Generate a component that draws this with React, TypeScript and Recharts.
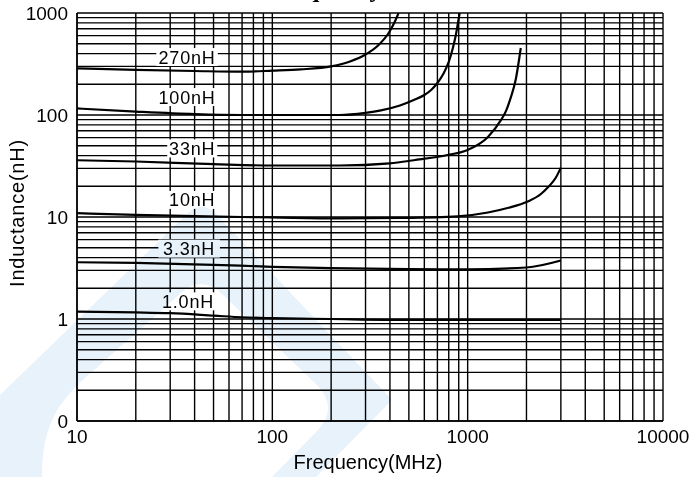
import React from "react";
import {
  CartesianGrid,
  Line,
  LineChart,
  ReferenceDot,
  XAxis,
  YAxis,
} from "recharts";

// frequency (MHz) / inductance (nH)
const freq270 = [10, 20, 40, 70, 100, 140, 200, 250, 300, 350, 394, 423, 443];
const ind270 = [287, 277, 270, 266, 272, 280, 300, 335, 392, 486, 637, 816, 1000];

const freq100 = [10, 20, 40, 70, 100, 150, 220, 300, 360, 450, 530, 600, 650, 700, 750, 800, 840, 870, 890, 910];
const ind100 = [116, 108, 102, 100, 100, 100, 100, 105, 111, 124, 140, 157, 176, 206, 252, 331, 454, 608, 780, 1000];

const freq33 = [10, 20, 50, 100, 220, 400, 530, 790, 1000, 1270, 1480, 1570, 1660, 1760, 1870];
const ind33 = [36, 35, 33, 32, 32, 33.6, 36, 40.5, 45.5, 61, 89, 109, 147, 220, 454];

const freq10 = [10, 20, 70, 100, 220, 450, 890, 1270, 1600, 2030, 2370, 2570, 2820, 3000];
const ind10 = [10.9, 10.5, 10, 9.9, 9.7, 9.8, 10.16, 11.07, 12.25, 14.2, 16.8, 19.5, 24.1, 30.5];

const freq3p3 = [10, 20, 50, 100, 200, 500, 1000, 2000, 3000];
const ind3p3 = [3.6, 3.55, 3.4, 3.25, 3.15, 3.08, 3.07, 3.2, 3.75];

const freq1p0 = [10, 20, 30, 50, 70, 100, 200, 500, 1000, 3000];
const ind1p0 = [1.18, 1.16, 1.14, 1.08, 1.04, 1.02, 1.0, 0.98, 0.98, 0.98];

const curveLabels = ["270nH", "100nH", "33nH", "10nH", "3.3nH", "1.0nH"];
const labelFreq = [36.6, 36.6, 38.9, 38.9, 37.5, 37];
const labelInd = [370, 150, 47, 14.7, 4.9, 1.49];

const xDecades = [10, 100, 1000, 10000];
const xDecadeLabels = ["10", "100", "1000", "10000"];
const yDecades = [0.1, 1, 10, 100, 1000];
const yDecadeLabels = ["0", "1", "10", "100", "1000"];

const FONT = "'Liberation Sans', Arial, Helvetica, sans-serif";

function logTicks(decades: number[]) {
  const out: number[] = [];
  decades.forEach((d, i) => {
    if (i === decades.length - 1) {
      out.push(d);
      return;
    }
    for (let m = 1; m < 10; m++) out.push(+(d * m).toPrecision(6));
  });
  return out;
}

function decadeFormatter(decades: number[], labels: string[]) {
  return (v: number) => {
    const i = decades.findIndex((d) => Math.abs(v / d - 1) < 1e-6);
    return i >= 0 ? labels[i] : "";
  };
}

const toPoints = (f: number[], l: number[]) => f.map((x, i) => ({ f: x, L: l[i] }));

const series = [
  toPoints(freq270, ind270),
  toPoints(freq100, ind100),
  toPoints(freq33, ind33),
  toPoints(freq10, ind10),
  toPoints(freq3p3, ind3p3),
  toPoints(freq1p0, ind1p0),
];

const xTicks = logTicks(xDecades);
const yTicks = logTicks(yDecades);

function CurveTag(props: any) {
  const { cx, cy, text } = props;
  const w = text.length * 11.5 + 4;
  return (
    <g>
      <rect x={cx - w / 2} y={cy - 9} width={w} height={18} fill="#fff" />
      <text
        x={cx}
        y={cy}
        dy="0.36em"
        textAnchor="middle"
        fontSize={18}
        fontFamily={FONT}
        letterSpacing={0.8}
        fill="#000"
      >
        {text}
      </text>
    </g>
  );
}

export default function App() {
  const tickStyle = { fontSize: 19, fontFamily: FONT, fill: "#000" };
  return (
    <div style={{ position: "absolute", left: 0, top: 0, width: 693, height: 477, background: "#fff" }}>
      <LineChart width={693} height={477} margin={{ top: 13, right: 30, bottom: 0, left: 0 }}>
        <CartesianGrid stroke="#000" strokeWidth={1.4} />
        <XAxis
          dataKey="f"
          type="number"
          scale="log"
          domain={[10, 10000]}
          allowDataOverflow
          ticks={xTicks}
          interval={0}
          tickFormatter={decadeFormatter(xDecades, xDecadeLabels)}
          tickLine={false}
          tickSize={6}
          tickMargin={3}
          axisLine={{ stroke: "#000", strokeWidth: 1.4 }}
          tick={tickStyle}
          height={56}
        />
        <YAxis
          type="number"
          scale="log"
          domain={[0.1, 1000]}
          allowDataOverflow
          ticks={yTicks}
          interval={0}
          tickFormatter={decadeFormatter(yDecades, yDecadeLabels)}
          tickLine={false}
          tickSize={6}
          tickMargin={3}
          axisLine={{ stroke: "#000", strokeWidth: 1.4 }}
          tick={tickStyle}
          width={77}
        />
        {series.map((d, i) => (
          <Line
            key={curveLabels[i]}
            data={d}
            dataKey="L"
            type="monotone"
            dot={false}
            activeDot={false}
            stroke="#000"
            strokeWidth={2.2}
            isAnimationActive={false}
          />
        ))}
        {curveLabels.map((t, i) => (
          <ReferenceDot
            key={t}
            x={labelFreq[i]}
            y={labelInd[i]}
            r={0}
            ifOverflow="visible"
            shape={(p: any) => <CurveTag {...p} text={t} />}
          />
        ))}
      </LineChart>
      <svg
        width={693}
        height={477}
        style={{ position: "absolute", left: 0, top: 0, mixBlendMode: "multiply", pointerEvents: "none" }}
      >
        <path
          fillRule="evenodd"
          fill="#e7f2fa"
          d="M0 395 L188 213 Q202 200 216 214 L392 400 L316 477 L0 477 Z M42 477 C42 430 55 405 85 378 L182 292 Q202 275 222 294 L318 386 Q338 408 318 430 L272 477 Z"
        />
        <text x={382} y={-3} textAnchor="end" fontSize={25} fontWeight="bold" fontFamily="'Liberation Serif', 'Times New Roman', serif">
          Inductance vs. Frequency
        </text>
        <text x={368} y={469} textAnchor="middle" fontSize={20} fontFamily={FONT}>
          Frequency(MHz)
        </text>
        <text
          x={17}
          y={213}
          transform="rotate(-90 17 213)"
          textAnchor="middle"
          dy="0.36em"
          fontSize={20}
          letterSpacing={0.8}
          fontFamily={FONT}
        >
          Inductance(nH)
        </text>
      </svg>
    </div>
  );
}
